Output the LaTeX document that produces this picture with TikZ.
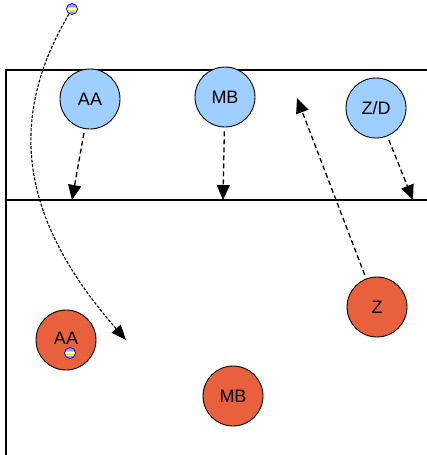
\documentclass[tikz,border=0pt]{standalone}
\usepackage{fontspec}
\setmainfont{Liberation Sans}
\usetikzlibrary{arrows.meta}
\definecolor{bluefill}{HTML}{9FCFFF}
\definecolor{redfill}{HTML}{E8603C}

\begin{document}
\begin{tikzpicture}[x=1pt,y=-1pt,
  player/.style={circle,draw,line width=0.9pt,minimum size=60pt,inner sep=0pt,font=\fontsize{18}{20}\selectfont},
  blue player/.style={player,fill=bluefill},
  red player/.style={player,fill=redfill},
  run/.style={line width=1.3pt,dash pattern=on 5pt off 3pt,shorten <=4pt,-{Triangle[length=15pt,width=13pt]}},
  ball/.style={circle,draw=blue!70!black,fill=blue!40,line width=0.7pt,minimum size=11pt,inner sep=0pt,
    path picture={\fill[yellow!90!orange] ([yshift=-2.5pt]path picture bounding box.west) rectangle ([yshift=2.5pt]path picture bounding box.east);
      \fill[white] ([yshift=-0.7pt]path picture bounding box.west) rectangle ([yshift=0.7pt]path picture bounding box.east);}}]
  \useasboundingbox (0,0) rectangle (427,455);
  % court
  \draw[line width=1.3pt] (427,70) -- (6,70) -- (6,455);
  \draw[line width=1.3pt] (6,200) -- (427,200);
  % blue side
  \node [blue player] (aa) at (90,99) {AA};
  \node [blue player] (mb) at (225,97) {MB};
  \node [blue player] (zd) at (376,108) {Z/D};
  % red side
  \node [red player] (raa) at (66,340) {\raisebox{4pt}{AA}};
  \node [red player] (rmb) at (233,396) {MB};
  \node [red player] (rz) at (377,307) {Z};
  % balls
  \node [ball] (b1) at (72,9) {};
  \node [ball] (b2) at (70,353) {};
  % runs
  \coordinate (aat) at (72,200);
  \coordinate (mbt) at (223,200);
  \coordinate (zdt) at (413,200);
  \coordinate (rzt) at (297,98);
  \coordinate (passt) at (126,340);
  \draw [run] (aa) -- (aat);
  \draw [run] (mb) -- (mbt);
  \draw [run] (zd) -- (zdt);
  \draw [run] (rz) -- (rzt);
  \draw [line width=1.1pt,dash pattern=on 3pt off 1.5pt,-{Triangle[length=15pt,width=12pt]}]
    (b1) .. controls (0,130) and (30,230) .. (passt);
\end{tikzpicture}
\end{document}
